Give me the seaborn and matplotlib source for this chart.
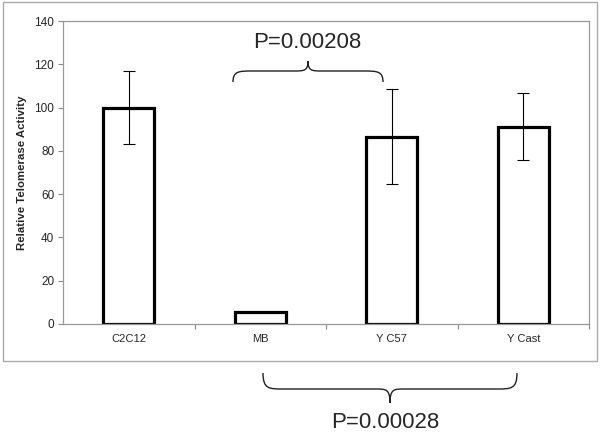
import matplotlib
matplotlib.use("Agg")
import matplotlib.pyplot as plt
from matplotlib.path import Path
from matplotlib.patches import PathPatch, Rectangle
import seaborn as sns
import pandas as pd
import numpy as np

categories = ["C2C12", "MB", "Y C57", "Y Cast"]
values = [100, 5.5, 86.5, 91.2]
errors = [17, 0, 22, 15.5]
y_ticks = [0, 20, 40, 60, 80, 100, 120, 140]
ylabel = "Relative Telomerase Activity"
p_top = "P=0.00208"
p_bottom = "P=0.00028"

sns.set_theme(style="white")
plt.rcParams['font.family'] = ['Liberation Sans', 'DejaVu Sans']

W, H = 600, 432
fig = plt.figure(figsize=(6, 4.32), dpi=100)
ax = fig.add_axes([63 / W, 1 - 324 / H, (589 - 63) / W, (324 - 21) / H])

df = pd.DataFrame({"cat": categories, "val": values})
sns.barplot(data=df, x="cat", y="val", ax=ax, color="white", width=0.39,
            edgecolor="black", linewidth=2.3, saturation=1, errorbar=None)

idx = [i for i, e in enumerate(errors) if e > 0]
ax.errorbar(idx, [values[i] for i in idx], yerr=[errors[i] for i in idx],
            fmt="none", ecolor="black", elinewidth=0.8, capsize=4, capthick=0.8)

ax.set_xlim(-0.5, len(categories) - 0.5)
ax.set_ylim(0, 140)
ax.set_yticks(y_ticks)
ax.set_xlabel("")
ax.set_ylabel(ylabel, fontsize=8.2, fontweight="bold", labelpad=5)
ax.tick_params(axis="y", labelsize=8.5, length=3.8, width=0.8, color="#888888",
               direction="out", left=True, pad=2.5)
ax.tick_params(axis="x", labelsize=8, length=0, pad=7)
ax.set_xticks([i + 0.5 for i in range(len(categories))], minor=True)
ax.tick_params(axis="x", which="minor", length=3.5, width=0.8, color="#888888",
               direction="out", bottom=True)
for s in ax.spines.values():
    s.set_color("#999999")
    s.set_linewidth(0.9)

# outer chart frame
fig.patches.append(Rectangle((3 / W, 1 - 361 / H), (597 - 3) / W, (361 - 2) / H,
                             transform=fig.transFigure, fill=False,
                             edgecolor="#aaaaaa", linewidth=1.0))


def brace(x0, x1, y_end, y_mid, y_tip):
    xc = (x0 + x1) / 2
    def f(x, y):
        return (x / W, 1 - y / H)
    verts = [f(x0, y_end),
             f(x0, y_mid), f(x0 + 6, y_mid), f(x0 + 20, y_mid),
             f(xc - 14, y_mid),
             f(xc - 4, y_mid), f(xc, y_mid), f(xc, y_tip),
             f(xc, y_mid), f(xc + 4, y_mid), f(xc + 14, y_mid),
             f(x1 - 20, y_mid),
             f(x1 - 6, y_mid), f(x1, y_mid), f(x1, y_end)]
    codes = [Path.MOVETO,
             Path.CURVE4, Path.CURVE4, Path.CURVE4,
             Path.LINETO,
             Path.CURVE4, Path.CURVE4, Path.CURVE4,
             Path.CURVE4, Path.CURVE4, Path.CURVE4,
             Path.LINETO,
             Path.CURVE4, Path.CURVE4, Path.CURVE4]
    fig.patches.append(PathPatch(Path(verts, codes), transform=fig.transFigure,
                                 fill=False, edgecolor="#222222", linewidth=1.0))


brace(233, 383, 82, 71, 61)
brace(263, 517, 373, 389, 403)

fig.text(307 / W, 1 - 42 / H, p_top, ha="center", va="center", fontsize=16)
fig.text(385 / W, 1 - 422 / H, p_bottom, ha="center", va="center", fontsize=16)

fig.savefig("out.png", dpi=100, facecolor="white")
